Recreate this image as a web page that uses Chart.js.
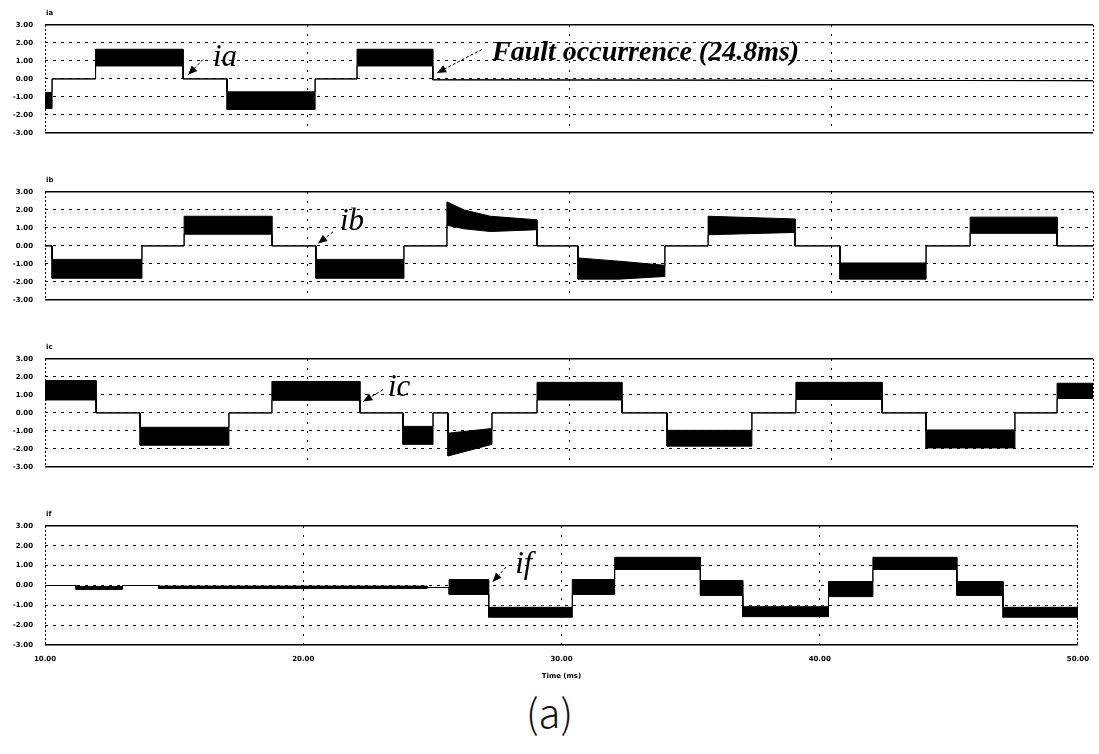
<!DOCTYPE html>
<html>
<head>
<meta charset="utf-8">
<script src="https://cdn.jsdelivr.net/npm/chart.js@4.4.1/dist/chart.umd.min.js"></script>
<style>
  body { margin: 0; background: #fff; width: 1099px; height: 754px; position: relative; overflow: hidden; }
  .panel { position: absolute; left: 0; width: 1099px; }
  #caption { position: absolute; left: 0; top: 682px; width: 1099px; text-align: center;
             font: 300 40px "Noto Sans CJK KR", "DejaVu Sans", sans-serif; color: #111; }
</style>
</head>
<body>
<div class="panel" style="top:5px;height:144px"><canvas id="chartA"></canvas></div>
<div class="panel" style="top:172px;height:144px"><canvas id="chartB"></canvas></div>
<div class="panel" style="top:339px;height:144px"><canvas id="chartC"></canvas></div>
<div class="panel" style="top:506px;height:174px"><canvas id="chartF"></canvas></div>
<div id="caption">(a)</div>

<script>
// ---------- data (time in ms, current envelope: upper / lower edge of the switching ripple band) ----------
const xTicks = [10, 20, 30, 40, 50];
const yTicks = [-3, -2, -1, 0, 1, 2, 3];

// phase a current
const tA  = [10, 10.27, 10.27, 11.93, 11.93, 15.27, 15.27, 16.95, 16.95, 20.31, 20.31, 21.91, 21.91, 24.8, 24.8, 50];
const aHi = [-0.75, -0.75, 0, 0, 1.65, 1.65, 0, 0, -0.72, -0.72, 0, 0, 1.65, 1.65, -0.05, -0.1];
const aLo = [-1.65, -1.65, 0, 0, 0.72, 0.72, 0, 0, -1.7, -1.7, 0, 0, 0.72, 0.72, -0.05, -0.1];

// phase b current
const tB  = [10, 10.27, 10.27, 13.7, 13.7, 15.31, 15.31, 18.66, 18.66, 20.34, 20.34, 23.7, 23.7, 25.34, 25.34, 26.0, 27.0, 28.78, 28.78,
             30.34, 30.34, 31.9, 33.66, 33.66, 35.31, 35.31, 38.63, 38.63, 40.34, 40.34, 43.63, 43.63, 45.31, 45.31, 48.63, 48.63, 50];
const bHi = [0, 0, -0.75, -0.75, 0, 0, 1.65, 1.65, 0, 0, -0.75, -0.75, 0, 0, 2.45, 2.0, 1.65, 1.45, 0,
             0, -0.67, -0.85, -1.08, 0, 0, 1.65, 1.5, 0, 0, -0.95, -0.95, 0, 0, 1.6, 1.6, 0, 0];
const bLo = [0, 0, -1.8, -1.8, 0, 0, 0.65, 0.65, 0, 0, -1.8, -1.8, 0, 0, 1.15, 0.95, 0.8, 0.9, 0,
             0, -1.85, -1.85, -1.7, 0, 0, 0.62, 0.75, 0, 0, -1.85, -1.85, 0, 0, 0.7, 0.7, 0, 0];

// phase c current
const tC  = [10, 11.95, 11.95, 13.63, 13.63, 17.02, 17.02, 18.66, 18.66, 22.02, 22.02, 23.66, 23.66, 24.81, 24.81, 25.38, 25.38, 27.06, 27.06,
             28.78, 28.78, 32.02, 32.02, 33.74, 33.74, 36.98, 36.98, 38.66, 38.66, 41.95, 41.95, 43.63, 43.63, 47.02, 47.02, 48.63, 48.63, 50];
const cHi = [1.8, 1.8, 0, 0, -0.8, -0.8, 0, 0, 1.75, 1.75, 0, 0, -0.75, -0.75, 0, 0, -1.13, -0.87, 0,
             0, 1.7, 1.7, 0, 0, -0.97, -0.97, 0, 0, 1.7, 1.7, 0, 0, -0.95, -0.95, 0, 0, 1.65, 1.65];
const cLo = [0.72, 0.72, 0, 0, -1.8, -1.8, 0, 0, 0.7, 0.7, 0, 0, -1.75, -1.75, 0, 0, -2.4, -1.75, 0,
             0, 0.72, 0.72, 0, 0, -1.85, -1.85, 0, 0, 0.75, 0.75, 0, 0, -1.95, -1.95, 0, 0, 0.8, 0.8];

// fault current
const tF  = [10, 11.2, 11.2, 13.0, 13.0, 14.4, 14.4, 24.8, 24.8, 25.65, 25.65, 27.18, 27.18, 30.42, 30.42, 32.06, 32.06, 35.38, 35.38,
             37.02, 37.02, 40.34, 40.34, 42.06, 42.06, 45.31, 45.31, 47.1, 47.1, 50];
const fHi = [0, 0, -0.05, -0.05, 0, 0, -0.03, -0.03, -0.1, -0.1, 0.3, 0.3, -1.1, -1.1, 0.3, 0.3, 1.42, 1.42, 0.25,
             0.25, -1.07, -1.07, 0.2, 0.2, 1.42, 1.42, 0.2, 0.2, -1.1, -1.1];
const fLo = [0, 0, -0.2, -0.2, 0, 0, -0.15, -0.15, -0.1, -0.1, -0.45, -0.45, -1.6, -1.6, -0.45, -0.45, 0.81, 0.81, -0.5,
             -0.5, -1.57, -1.57, -0.56, -0.56, 0.81, 0.81, -0.5, -0.5, -1.6, -1.6];

// ---------- helpers ----------
const zip = (xs, ys) => xs.map((x, i) => ({ x, y: ys[i] }));

// text labels + arrows, placed in data units of each panel
const notes = {
  chartA: {
    name: "ia",
    labels: [
      { text: "Fault occurrence (24.8ms)", x: 27.06, y: 1.45, font: "bold italic 28px 'Liberation Serif'", base: "middle" },
      { text: "ia", x: 16.41, y: 0.73, font: "italic 31px 'Liberation Serif'", base: "alphabetic" },
    ],
    arrows: [
      { x1: 26.68, y1: 1.64, x2: 24.96, y2: 0.33 },
      { x1: 16.03, y1: 1.08, x2: 15.46, y2: 0.23 },
    ],
  },
  chartB: {
    name: "ib",
    labels: [{ text: "ib", x: 21.26, y: 0.88, font: "italic 31px 'Liberation Serif'", base: "alphabetic" }],
    arrows: [{ x1: 20.99, y1: 0.78, x2: 20.42, y2: 0.13 }],
  },
  chartC: {
    name: "ic",
    labels: [{ text: "ic", x: 23.09, y: 0.93, font: "italic 31px 'Liberation Serif'", base: "alphabetic" }],
    arrows: [{ x1: 22.9, y1: 1.29, x2: 22.14, y2: 0.63 }],
  },
  chartF: {
    name: "if",
    labels: [{ text: "if", x: 28.21, y: 0.63, font: "italic 31px 'Liberation Serif'", base: "alphabetic" }],
    arrows: [{ x1: 27.86, y1: 0.93, x2: 27.33, y2: 0.18 }],
  },
};

const notePlugin = {
  id: "notes",
  afterDraw(chart) {
    const n = notes[chart.canvas.id];
    if (!n) return;
    const { ctx, chartArea, scales } = chart;
    const px = (v) => scales.x.getPixelForValue(v);
    const py = (v) => scales.y.getPixelForValue(v);

    ctx.save();
    ctx.fillStyle = "#000";
    ctx.strokeStyle = "#000";

    // tiny panel name
    ctx.font = "bold 7px 'DejaVu Sans'";
    ctx.textAlign = "left";
    ctx.textBaseline = "middle";
    ctx.fillText(n.name, chartArea.left + 1, chartArea.top - 12);

    n.labels.forEach((l) => {
      ctx.font = l.font;
      ctx.textBaseline = l.base;
      ctx.fillText(l.text, px(l.x), py(l.y));
    });

    n.arrows.forEach((a) => {
      const x1 = px(a.x1), y1 = py(a.y1), x2 = px(a.x2), y2 = py(a.y2);
      const ang = Math.atan2(y2 - y1, x2 - x1);
      ctx.lineWidth = 1;
      ctx.setLineDash([3, 2]);
      ctx.beginPath();
      ctx.moveTo(x1, y1);
      ctx.lineTo(x2, y2);
      ctx.stroke();
      ctx.setLineDash([]);
      ctx.beginPath();
      ctx.moveTo(x2, y2);
      ctx.lineTo(x2 - 10 * Math.cos(ang - 0.4), y2 - 10 * Math.sin(ang - 0.4));
      ctx.lineTo(x2 - 10 * Math.cos(ang + 0.4), y2 - 10 * Math.sin(ang + 0.4));
      ctx.closePath();
      ctx.fill();
    });
    ctx.restore();
  },
};

function makePanel(id, t, hi, lo, isBottom) {
  const el = document.getElementById(id);
  return new Chart(el, {
    type: "line",
    data: {
      datasets: [
        { data: zip(t, hi), borderColor: "#000", borderWidth: 1, pointRadius: 0, fill: false },
        { data: zip(t, lo), borderColor: "#000", borderWidth: 1, pointRadius: 0, fill: "-1", backgroundColor: "#000" },
      ],
    },
    options: {
      responsive: true,
      maintainAspectRatio: false,
      animation: false,
      layout: { padding: { top: 20, right: 6, bottom: isBottom ? 0 : 5, left: 0 } },
      plugins: { legend: { display: false }, tooltip: { enabled: false } },
      scales: {
        x: {
          type: "linear",
          min: xTicks[0],
          max: xTicks[xTicks.length - 1],
          afterBuildTicks: (s) => { s.ticks = xTicks.map((v) => ({ value: v })); },
          afterFit: (s) => { s.height = isBottom ? 35 : 0; },
          ticks: {
            display: isBottom,
            padding: 10,
            font: { family: "DejaVu Sans", size: 7, weight: "bold" },
            color: "#000",
            maxRotation: 0,
            callback: (v) => v.toFixed(2),
          },
          title: {
            display: isBottom,
            text: "Time (ms)",
            padding: 0,
            font: { family: "DejaVu Sans", size: 7, weight: "bold" },
            color: "#000",
          },
          grid: {
            drawTicks: false,
            color: "#000",
            lineWidth: 1,
          },
          border: {
            display: false,
            dash: (c) => (c.tick && (c.tick.value === 10 || c.tick.value === 50) ? [2, 2] : [2, 7]),
          },
        },
        y: {
          min: yTicks[0],
          max: yTicks[yTicks.length - 1],
          afterBuildTicks: (s) => { s.ticks = yTicks.map((v) => ({ value: v })); },
          afterFit: (s) => { s.width = 45; },
          ticks: {
            padding: 12,
            font: { family: "DejaVu Sans", size: 7, weight: "bold" },
            color: "#000",
            callback: (v) => v.toFixed(2),
          },
          grid: {
            drawTicks: false,
            color: "#000",
            lineWidth: (c) => (c.tick && Math.abs(c.tick.value) === 3 ? 1.5 : 1),
          },
          border: {
            display: false,
            dash: (c) => (c.tick && Math.abs(c.tick.value) === 3 ? [] : [3, 5]),
          },
        },
      },
    },
    plugins: [notePlugin],
  });
}

makePanel("chartA", tA, aHi, aLo, false);
makePanel("chartB", tB, bHi, bLo, false);
makePanel("chartC", tC, cHi, cLo, false);
makePanel("chartF", tF, fHi, fLo, true);
</script>
</body>
</html>
